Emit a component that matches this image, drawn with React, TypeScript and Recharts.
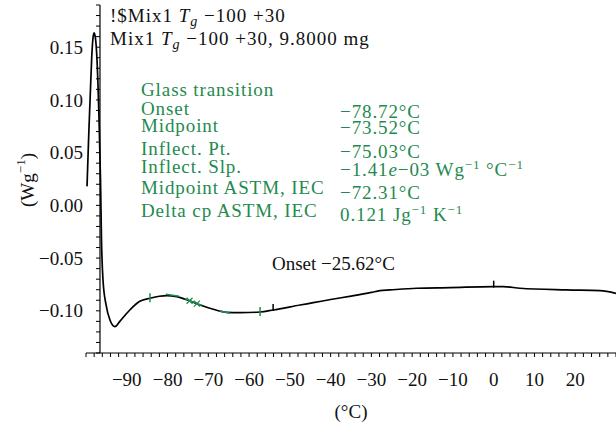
import React from "react";
import {
  ComposedChart,
  Line,
  Scatter,
  XAxis,
  YAxis,
  ReferenceLine,
} from "recharts";

// DSC trace: temperature (°C) and heat flow (W/g)
const tempC = [
  -99.75, -99.3, -99.0, -98.6, -98.3, -98.04, -97.7, -97.3, -96.8, -96.44,
  -96.2, -95.83, -95.1, -94.1, -92.9, -91.7, -89.2, -86.8, -84.3, -82.0,
  -80.2, -77.75, -74.5, -72.0, -68.8, -65.5, -62.2, -57.3, -54.1, -47.5,
  -44.25, -40.0, -35.0, -30.0, -27.9, -25.4, -18.9, -10.7, -0.1, 2.35, 6.45,
  17.9, 26.1, 30.0,
];
const heatFlow = [
  0.018, 0.07, 0.1, 0.14, 0.158, 0.1635, 0.159, 0.138, 0.081, 0.024, -0.033,
  -0.071, -0.094, -0.109, -0.115, -0.11, -0.099, -0.091, -0.0881, -0.0862,
  -0.0856, -0.0866, -0.0907, -0.0945, -0.0985, -0.1014, -0.1018, -0.1011,
  -0.0992, -0.0945, -0.0923, -0.0893, -0.086, -0.0825, -0.0809, -0.0802,
  -0.0786, -0.078, -0.0771, -0.0771, -0.0786, -0.0802, -0.0809, -0.0834,
];

// evaluation marks on the curve
const limitMarks = [
  { t: -84.3, q: -0.0881 },
  { t: -57.3, q: -0.1011 },
];
const crossMarks = [
  { t: -74.6, q: -0.0905 },
  { t: -72.8, q: -0.0932 },
];
const tangentSegs = [
  [{ t: -80.4, q: -0.0842 }, { t: -77.2, q: -0.0862 }],
  [{ t: -75.8, q: -0.0884 }, { t: -71.6, q: -0.0948 }],
  [{ t: -67.2, q: -0.1002 }, { t: -64.6, q: -0.1024 }],
];
const blackMarks = [
  { t: -54.1, q: -0.0992 },
  { t: 0.0, q: -0.0771 },
];

const xLabelTicks = [-90, -80, -70, -60, -50, -40, -30, -20, -10, 0, 10, 20];
const yLabelTicks = [0.15, 0.1, 0.05, 0.0, -0.05, -0.1];

const glassLabels = [
  "Onset",
  "Midpoint",
  "Inflect. Pt.",
  "Inflect. Slp.",
  "Midpoint ASTM, IEC",
  "Delta cp ASTM, IEC",
];

const X_MIN = -100;
const X_MAX = 30;
const Y_MIN = -0.14;
const Y_MAX = 0.19;
const Y_AXIS_AT = -96.57;

const W = 616;
const H = 429;
const PLOT_LEFT = 86;
const PLOT_TOP = 5;
const PLOT_BOTTOM = 353;

const FONT = "'Liberation Serif', 'Times New Roman', serif";
const GREEN = "#1f8a4f";

const xMinor: number[] = [];
for (let v = X_MIN; v <= X_MAX; v += 2) xMinor.push(v);
const yMinor: number[] = [];
for (let k = -14; k <= 19; k++) yMinor.push(k / 100);

const curve = tempC.map((t, i) => ({ t, q: heatFlow[i] }));

const fmtMinus = (s: string) => s.replace("-", "\u2212");

const axisPx =
  PLOT_LEFT + ((Y_AXIS_AT - X_MIN) / (X_MAX - X_MIN)) * (W - PLOT_LEFT);

function YTick(props: any) {
  const { y, payload } = props;
  const v = payload.value;
  const labeled = yLabelTicks.some((l) => Math.abs(l - v) < 1e-6);
  return (
    <g>
      <line x1={axisPx - 4} x2={axisPx} y1={y} y2={y} stroke="#000" />
      {labeled && (
        <text
          x={axisPx - 17}
          y={y}
          dy="0.35em"
          textAnchor="end"
          fontFamily={FONT}
          fontSize={19}
          fill="#111"
        >
          {fmtMinus(v.toFixed(2))}
        </text>
      )}
    </g>
  );
}

function XTick(props: any) {
  const { x, payload } = props;
  const v = payload.value;
  if (!xLabelTicks.includes(v)) return <g />;
  return (
    <text
      x={x}
      y={PLOT_BOTTOM + 33}
      textAnchor="middle"
      fontFamily={FONT}
      fontSize={19}
      fill="#111"
    >
      {fmtMinus(String(v))}
    </text>
  );
}

const tickShape = (color: string, up: number, down: number) => (p: any) =>
  (
    <line
      x1={p.cx}
      x2={p.cx}
      y1={p.cy - up}
      y2={p.cy + down}
      stroke={color}
      strokeWidth={1.5}
    />
  );

const crossShape = (p: any) => (
  <g stroke={GREEN} strokeWidth={1.3}>
    <line x1={p.cx - 3} y1={p.cy - 3} x2={p.cx + 3} y2={p.cy + 3} />
    <line x1={p.cx - 3} y1={p.cy + 3} x2={p.cx + 3} y2={p.cy - 3} />
  </g>
);

const Sup = ({ children }: { children: React.ReactNode }) => (
  <tspan dy={-7} fontSize={13}>
    {children}
  </tspan>
);

export default function App() {
  return (
    <div style={{ position: "absolute", left: 0, top: 0, background: "#fff" }}>
      <ComposedChart
        width={W}
        height={H}
        data={curve}
        margin={{ top: PLOT_TOP, right: 0, bottom: 0, left: 0 }}
      >
        <XAxis
          dataKey="t"
          type="number"
          domain={[X_MIN, X_MAX]}
          ticks={xMinor}
          interval={0}
          allowDataOverflow
          height={H - PLOT_BOTTOM}
          axisLine={{ stroke: "#000" }}
          tickLine={{ stroke: "#000" }}
          tickSize={4}
          tick={<XTick />}
        />
        <YAxis
          dataKey="q"
          type="number"
          domain={[Y_MIN, Y_MAX]}
          ticks={yMinor}
          interval={0}
          allowDataOverflow
          width={PLOT_LEFT}
          axisLine={false}
          tickLine={false}
          tick={<YTick />}
        />
        <ReferenceLine x={Y_AXIS_AT} stroke="#000" strokeWidth={1.2} />
        <Line
          dataKey="q"
          type="monotone"
          stroke="#000"
          strokeWidth={1.7}
          dot={false}
          isAnimationActive={false}
        />
        {tangentSegs.map((s, i) => (
          <ReferenceLine
            key={i}
            segment={[
              { x: s[0].t, y: s[0].q },
              { x: s[1].t, y: s[1].q },
            ]}
            stroke={GREEN}
            strokeWidth={1.5}
          />
        ))}
        <Scatter
          data={limitMarks}
          dataKey="q"
          shape={tickShape(GREEN, 5, 4)}
          isAnimationActive={false}
        />
        <Scatter
          data={crossMarks}
          dataKey="q"
          shape={crossShape}
          isAnimationActive={false}
        />
        <Scatter
          data={blackMarks}
          dataKey="q"
          shape={tickShape("#000", 6, 1)}
          isAnimationActive={false}
        />

        <text fontFamily={FONT} fontSize={19} fill="#111" letterSpacing={1}>
          <tspan x={110} y={22}>
            !$Mix1{" "}
          </tspan>
          <tspan fontStyle="italic">T</tspan>
          <tspan fontStyle="italic" fontSize={14} dy={4}>
            g
          </tspan>
          <tspan dy={-4}> {"\u2212"}100 +30</tspan>
        </text>
        <text fontFamily={FONT} fontSize={19} fill="#111" letterSpacing={1}>
          <tspan x={110} y={45}>
            Mix1{" "}
          </tspan>
          <tspan fontStyle="italic">T</tspan>
          <tspan fontStyle="italic" fontSize={14} dy={4}>
            g
          </tspan>
          <tspan dy={-4}> {"\u2212"}100 +30, 9.8000 mg</tspan>
        </text>

        <g fontFamily={FONT} fontSize={19} fill={GREEN} letterSpacing={0.9}>
          <text x={141} y={96}>
            Glass transition
          </text>
          {glassLabels.map((l, i) => (
            <text key={l} x={141} y={[115, 132, 155, 173, 194, 217][i]}>
              {l}
            </text>
          ))}
          <text x={340} y={118}>{"\u2212"}78.72°C</text>
          <text x={340} y={134}>{"\u2212"}73.52°C</text>
          <text x={340} y={158}>{"\u2212"}75.03°C</text>
          <text x={340} y={176}>
            {"\u2212"}1.41<tspan fontStyle="italic">e</tspan>
            {"\u2212"}03 Wg<Sup>{"\u2212"}1</Sup>
            <tspan dy={7}> °C</tspan>
            <Sup>{"\u2212"}1</Sup>
          </text>
          <text x={340} y={199}>{"\u2212"}72.31°C</text>
          <text x={340} y={221}>
            0.121 Jg<Sup>{"\u2212"}1</Sup>
            <tspan dy={7}> K</tspan>
            <Sup>{"\u2212"}1</Sup>
          </text>
        </g>

        <text x={272} y={270} fontFamily={FONT} fontSize={19} fill="#111">
          Onset {"\u2212"}25.62°C
        </text>

        <text
          x={27}
          y={180}
          transform="rotate(-90, 27, 180)"
          textAnchor="middle"
          dominantBaseline="central"
          fontFamily={FONT}
          fontSize={19}
          fill="#111"
        >
          (Wg<Sup>{"\u2212"}1</Sup>
          <tspan dy={7}>)</tspan>
        </text>
        <text
          x={351}
          y={418}
          textAnchor="middle"
          fontFamily={FONT}
          fontSize={19}
          fill="#111"
        >
          (°C)
        </text>
      </ComposedChart>
    </div>
  );
}
